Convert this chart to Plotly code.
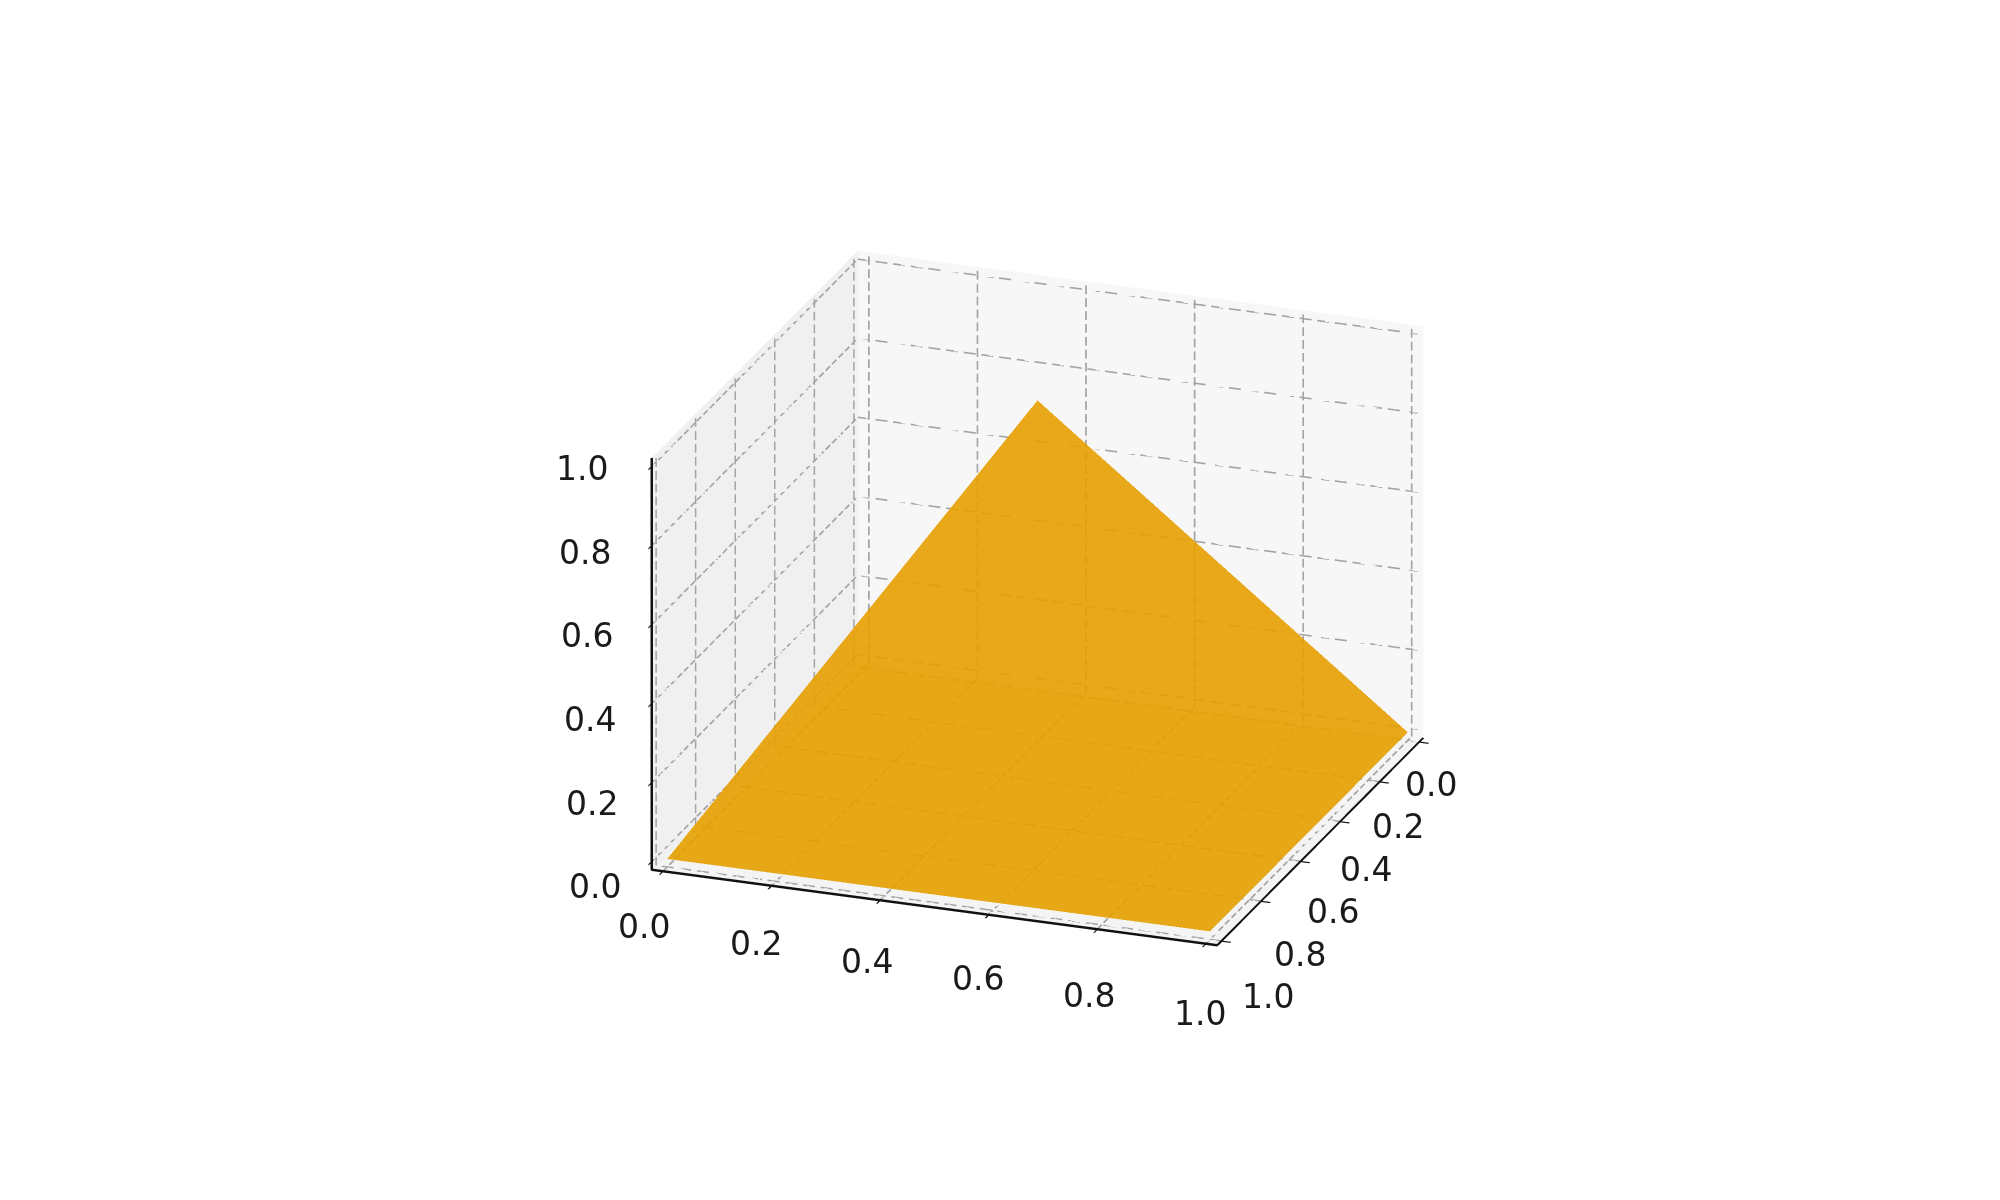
import plotly.graph_objects as go
import numpy as np

# the two faces of the pyramid that show
x_vals = [0, 1, 1, 0.5]
y_vals = [1, 1, 0, 0.5]
z_vals = [0, 0, 0, 1]
tri_i = [0, 1]
tri_j = [1, 2]
tri_k = [3, 3]

ticks = [0.0, 0.2, 0.4, 0.6, 0.8, 1.0]
tick_text = ["0.0", "0.2", "0.4", "0.6", "0.8", "1.0"]
lo, hi = -0.0208, 1.0208


def dashes(p0, p1, n=32, on=0.68):
    # chop a straight grid line into short pieces, scatter3d dash is too coarse
    p0, p1 = np.array(p0, float), np.array(p1, float)
    xs, ys, zs = [], [], []
    for s in range(n):
        a = p0 + (p1 - p0) * s / n
        b = p0 + (p1 - p0) * (s + on) / n
        xs += [a[0], b[0], None]
        ys += [a[1], b[1], None]
        zs += [a[2], b[2], None]
    return xs, ys, zs


gx, gy, gz = [], [], []
for t in ticks:
    segs = [
        ((t, hi, lo), (t, lo, lo)), ((t, lo, lo), (t, lo, hi)),  # x ticks
        ((hi, t, lo), (lo, t, lo)), ((lo, t, lo), (lo, t, hi)),  # y ticks
        ((lo, hi, t), (lo, lo, t)), ((lo, lo, t), (hi, lo, t)),  # z ticks
    ]
    for p0, p1 in segs:
        xs, ys, zs = dashes(p0, p1)
        gx += xs
        gy += ys
        gz += zs

fig = go.Figure()
fig.add_trace(go.Scatter3d(
    x=gx, y=gy, z=gz, mode="lines",
    line=dict(color="#a4a4a4", width=4),
    hoverinfo="skip", showlegend=False
))
fig.add_trace(go.Mesh3d(
    x=x_vals, y=y_vals, z=z_vals, i=tri_i, j=tri_j, k=tri_k,
    color="#E69F00", opacity=0.9, flatshading=True,
    lighting=dict(ambient=1, diffuse=0, specular=0, roughness=1, fresnel=0),
    showscale=False
))

axis_style = dict(
    tickvals=ticks, showticklabels=False,
    showgrid=False, zeroline=False, showspikes=False,
    showline=True, linecolor="#111111", linewidth=5,
    ticks="outside", ticklen=10, tickwidth=3, tickcolor="#111111",
    title=dict(text=""), showbackground=True
)

# horizontal labels, the gl tick labels turn with the axes
# shifts drift with t because this camera has no perspective
label_font = dict(family="DejaVu Sans", size=33, color="#1a1a1a")
labels = []
for t, s in zip(ticks, tick_text):
    labels.append(dict(x=t, y=hi, z=lo, text=s, xshift=-19 + 13 * t, yshift=-55 - 14 * t))
    labels.append(dict(x=hi, y=t, z=lo, text=s, xshift=12 + 34 * t, yshift=-42 - 13 * t))
    labels.append(dict(x=lo, y=hi, z=t, text=s, xshift=-57 - 13 * t, yshift=-25 + 23 * t))
for a in labels:
    a.update(showarrow=False, font=label_font)

fig.update_layout(
    paper_bgcolor="white",
    margin=dict(l=0, r=0, t=0, b=0),
    showlegend=False,
    scene=dict(
        domain=dict(x=[0.038, 1], y=[0.003, 1]),
        xaxis=dict(axis_style, range=[lo, hi], backgroundcolor="#f0f0f0"),
        yaxis=dict(axis_style, range=[hi, lo], backgroundcolor="#f7f7f7"),
        zaxis=dict(axis_style, range=[lo, hi], backgroundcolor="#f4f4f4"),
        aspectmode="manual",
        aspectratio=dict(x=1.02, y=1.02, z=0.75),
        annotations=labels,
        camera=dict(
            eye=dict(x=0.68, y=-1.867, z=0.783),
            center=dict(x=0, y=0, z=0),
            up=dict(x=0, y=0, z=1),
            projection=dict(type="orthographic")
        )
    )
)

fig.write_html("out.html")
